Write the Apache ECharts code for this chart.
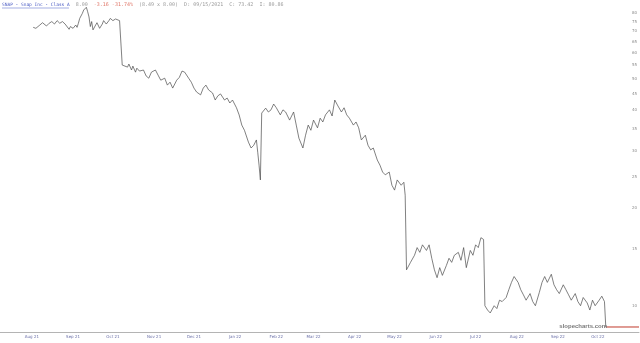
<!DOCTYPE html>
<html>
<head>
<meta charset="utf-8">
<script src="https://cdn.jsdelivr.net/npm/echarts@6/dist/echarts.min.js"></script>
<style>
html,body{margin:0;padding:0;background:#fff;}
#chart{width:640px;height:343px;}
</style>
</head>
<body>
<div id="chart"></div>
<script>
var dates = ['2021-08-16','2021-08-18','2021-08-19','2021-08-21','2021-08-23','2021-08-24','2021-08-26','2021-08-28','2021-08-30','2021-09-01','2021-09-03','2021-09-05','2021-09-07','2021-09-09','2021-09-10','2021-09-12','2021-09-13','2021-09-15','2021-09-17','2021-09-18','2021-09-19','2021-09-20','2021-09-22','2021-09-23','2021-09-25','2021-09-26','2021-09-27','2021-09-28','2021-09-29','2021-09-30','2021-10-02','2021-10-03','2021-10-05','2021-10-07','2021-10-08','2021-10-10','2021-10-12','2021-10-13','2021-10-15','2021-10-17','2021-10-20','2021-10-21','2021-10-22',
'2021-10-26','2021-10-27','2021-10-29','2021-10-30','2021-11-01','2021-11-02','2021-11-04','2021-11-05','2021-11-07','2021-11-09','2021-11-11','2021-11-13','2021-11-16','2021-11-18','2021-11-20','2021-11-23','2021-11-25','2021-11-27','2021-11-29','2021-12-02','2021-12-04','2021-12-06','2021-12-08','2021-12-11','2021-12-13','2021-12-15','2021-12-17','2021-12-20','2021-12-22','2021-12-24','2021-12-26','2021-12-29','2021-12-31','2022-01-02','2022-01-04','2022-01-07','2022-01-09','2022-01-11','2022-01-13','2022-01-16','2022-01-18','2022-01-20','2022-01-22','2022-01-25','2022-01-27','2022-01-29','2022-01-31','2022-02-01','2022-02-02','2022-02-03','2022-02-04',
'2022-02-07','2022-02-09','2022-02-11','2022-02-13','2022-02-15','2022-02-18','2022-02-20','2022-02-22','2022-02-25','2022-02-28','2022-03-02','2022-03-04','2022-03-07','2022-03-09','2022-03-11','2022-03-13','2022-03-15','2022-03-18','2022-03-20','2022-03-22','2022-03-24','2022-03-27','2022-03-29','2022-03-31','2022-04-02','2022-04-05','2022-04-07','2022-04-09','2022-04-11','2022-04-14','2022-04-16','2022-04-18','2022-04-20','2022-04-23','2022-04-25','2022-04-27','2022-04-29','2022-05-02','2022-05-04','2022-05-06','2022-05-08','2022-05-11','2022-05-13','2022-05-15','2022-05-17','2022-05-20','2022-05-22','2022-05-23','2022-05-24',
'2022-05-27','2022-05-30','2022-06-01','2022-06-03','2022-06-05','2022-06-08','2022-06-10','2022-06-12','2022-06-14','2022-06-16','2022-06-18','2022-06-20','2022-06-23','2022-06-25','2022-06-27','2022-06-29','2022-07-02','2022-07-04','2022-07-06','2022-07-08','2022-07-11','2022-07-13','2022-07-15','2022-07-17','2022-07-19','2022-07-21','2022-07-22',
'2022-07-24','2022-07-26','2022-07-29','2022-07-31','2022-08-02','2022-08-04','2022-08-07','2022-08-09','2022-08-11','2022-08-13','2022-08-16','2022-08-18','2022-08-20','2022-08-22','2022-08-25','2022-08-27','2022-08-29','2022-09-01','2022-09-03','2022-09-05','2022-09-07','2022-09-10','2022-09-12','2022-09-14','2022-09-16','2022-09-19','2022-09-21','2022-09-23','2022-09-25','2022-09-28','2022-09-30','2022-10-02','2022-10-04','2022-10-07','2022-10-09','2022-10-11','2022-10-13','2022-10-16','2022-10-18','2022-10-20','2022-10-21'];

var closes = [72.0,71.5,71.0,73.2,74.4,73.7,72.7,74.1,75.0,73.7,75.5,74.1,75.0,73.7,72.7,71.0,72.4,71.5,73.2,72.0,74.1,76.7,79.5,81.4,83.0,80.4,77.5,72.4,75.0,70.7,73.2,74.4,71.5,73.7,75.5,73.7,75.5,76.7,75.5,76.4,75.5,75.0,55.1,
54.3,55.5,53.2,54.7,52.4,53.9,52.8,52.1,53.2,51.0,50.2,52.4,53.2,51.3,49.5,50.2,47.8,48.8,46.8,49.5,50.5,52.8,52.4,50.2,48.8,46.8,45.5,44.6,46.8,47.8,46.2,45.2,43.0,44.3,44.9,43.0,43.6,42.1,43.0,40.7,38.7,36.0,34.7,31.9,30.6,31.2,32.4,29.7,27.1,24.4,39.2,
40.6,39.5,40.1,41.8,40.7,38.7,40.1,39.5,37.3,39.5,36.0,32.8,30.6,33.5,36.0,34.7,37.3,35.3,37.8,36.8,38.7,40.1,38.4,43.0,41.5,39.5,40.7,38.7,37.8,36.0,36.8,35.3,32.4,33.5,31.2,30.2,30.6,28.1,27.1,25.8,25.3,25.8,23.5,22.7,24.4,23.5,24.0,21.9,12.9,
13.6,14.3,15.1,14.6,15.4,14.8,15.4,14.0,12.9,12.2,13.1,12.4,13.3,14.0,13.6,14.3,14.6,13.8,15.1,13.1,14.8,14.3,15.4,15.1,16.2,16.0,10.0,
9.7,9.5,10.0,9.8,10.4,10.3,10.6,11.2,11.8,12.3,11.8,11.2,10.8,10.4,10.9,10.3,10.0,11.0,11.8,12.3,11.8,12.5,11.6,11.2,10.9,11.6,11.2,10.8,10.4,10.9,10.3,10.0,10.6,10.2,9.7,10.4,10.0,10.4,10.7,10.3,8.6];

var yTicks = [10,15,20,25,30,35,40,45,50,55,60,65,70,75,80];
var xTickDates = ['2021-08-15','2021-09-15','2021-10-15','2021-11-15','2021-12-15','2022-01-15','2022-02-15','2022-03-15','2022-04-15','2022-05-15','2022-06-15','2022-07-15','2022-08-15','2022-09-15','2022-10-15'];
var axisStart = '2021-07-22';
var lastLineEnd = '2022-11-15';
var headerTitle = 'SNAP - Snap Inc - Class A';
var headerLast = '8.00';
var headerChange = '-3.16 -31.74%';
var headerRest = '(8.49 x 8.00)  D: 09/15/2021  C: 73.42  I: 80.86';

var MONTHS = ['Jan','Feb','Mar','Apr','May','Jun','Jul','Aug','Sep','Oct','Nov','Dec'];
function ts(s){ var p = s.split('-'); return Date.UTC(+p[0], +p[1]-1, +p[2]); }

var seriesData = dates.map(function(d,i){ return [ts(d), closes[i]]; });
var lastIdx = dates.length - 1;
var lastData = [[ts(dates[lastIdx]), closes[lastIdx]], [ts(lastLineEnd), closes[lastIdx]]];

var chart = echarts.init(document.getElementById('chart'), null, {renderer:'canvas'});
chart.setOption({
  animation: false,
  backgroundColor: '#ffffff',
  grid: {left: 0, right: 0, top: 0, bottom: 11},
  xAxis: {
    type: 'value',
    min: ts(axisStart),
    max: ts(lastLineEnd),
    axisLine: {show: true, lineStyle: {color: '#b4b4b4', width: 1}},
    axisTick: {show: false},
    splitLine: {show: false},
    axisLabel: {
      customValues: xTickDates.map(ts),
      formatter: function(v){ var d = new Date(v); return MONTHS[d.getUTCMonth()] + ' ' + String(d.getUTCFullYear()).slice(2); },
      fontSize: 4,
      color: '#6a6fa8',
      margin: 3,
      fontFamily: 'DejaVu Sans'
    }
  },
  yAxis: {
    type: 'log',
    logBase: 10,
    position: 'right',
    min: 8.3,
    max: 87.4,
    axisLine: {show: false},
    axisTick: {show: false},
    splitLine: {show: false},
    axisLabel: {
      inside: true,
      customValues: yTicks,
      formatter: function(v){ return String(Math.round(v)); },
      fontSize: 4,
      color: '#8a8a8a',
      margin: 2,
      fontFamily: 'DejaVu Sans'
    }
  },
  series: [
    {
      type: 'line',
      data: seriesData,
      showSymbol: false,
      symbol: 'none',
      lineStyle: {color: '#4a4a4a', width: 0.7},
      z: 3
    },
    {
      type: 'line',
      data: lastData,
      showSymbol: false,
      symbol: 'none',
      lineStyle: {color: '#c0392b', width: 1},
      z: 2
    }
  ],
  graphic: [
    {
      type: 'text', left: 2, top: 2.5,
      style: {
        text: '{a|' + headerTitle + '}  {b|' + headerLast + '}  {c|' + headerChange + '}  {b|' + headerRest + '}',
        rich: {
          a: {fill: '#4b5cc4', font: '4.5px "DejaVu Sans Mono"'},
          b: {fill: '#9a9a9a', font: '5px "DejaVu Sans Mono"'},
          c: {fill: '#e0786a', font: '5px "DejaVu Sans Mono"'}
        },
        font: '5px "DejaVu Sans Mono"'
      }
    },
    {
      type: 'line', shape: {x1: 2, y1: 8, x2: 69, y2: 8},
      style: {stroke: '#4b5cc4', lineWidth: 0.5}
    },
    {
      type: 'text', right: 33, top: 323,
      style: {
        text: 'slopecharts.com',
        fill: '#7a7a7a',
        font: 'bold 6px "Liberation Sans"'
      },
      z: 10
    }
  ]
});
</script>
</body>
</html>
